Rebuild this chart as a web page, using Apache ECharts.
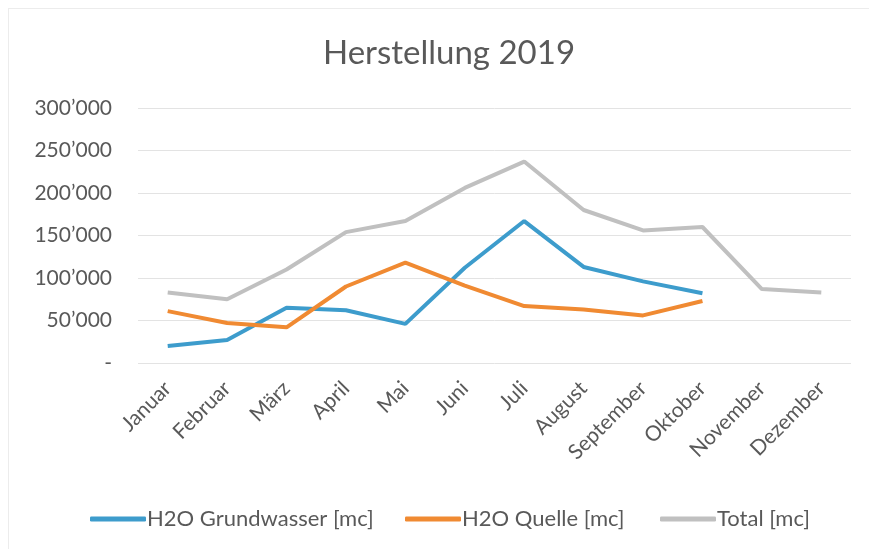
<!DOCTYPE html>
<html>
<head>
<meta charset="utf-8">
<script src="https://cdn.jsdelivr.net/npm/echarts@6/dist/echarts.min.js"></script>
<style>
html,body{margin:0;padding:0;background:#fff;}
#frame{position:absolute;left:8px;top:8px;width:900px;height:600px;border-left:1px solid #ececec;border-top:1px solid #ececec;}
#chart{position:absolute;left:0;top:0;width:869px;height:549px;}
</style>
</head>
<body>
<div id="frame"></div>
<div id="chart"></div>
<script>
const titleText = 'Herstellung 2019';
const months = ['Januar','Februar','März','April','Mai','Juni','Juli','August','September','Oktober','November','Dezember'];
const grundwasser = [20000, 27000, 65000, 62000, 46000, 112000, 167000, 113000, 96000, 82000, null, null];
const quelle = [61000, 47000, 42000, 90000, 118000, 91000, 67000, 63000, 56000, 73000, null, null];
const total = [83000, 75000, 110000, 154000, 167000, 206000, 237000, 180000, 156000, 160000, 87000, 83000];
const seriesNames = ['H2O Grundwasser [mc]', 'H2O Quelle [mc]', 'Total [mc]'];
const colors = ['#3d9ccc', '#f08a32', '#c0c0c0'];
const legendLefts = [85, 400, 655];

const FONT = 'Lato, "Open Sans", sans-serif';
const chart = echarts.init(document.getElementById('chart'), null, {renderer:'canvas'});
function fmt(v){
  if (v === 0) return '-';
  return String(v).replace(/\B(?=(\d{3})+(?!\d))/g, '\u2019');
}
const legends = seriesNames.map((n, i) => ({
  top: 503, left: legendLefts[i], itemWidth: 56, itemHeight: 5, icon: 'roundRect',
  textStyle: {fontFamily: FONT, fontSize: 22, color: '#595959', padding: [0,0,0,-4]},
  data: [n]
}));
chart.setOption({
  animation:false,
  title:{text:titleText,left:318,top:32,textStyle:{fontFamily:FONT,fontSize:33,fontWeight:'normal',color:'#595959'}},
  color:colors,
  grid:{left:138,right:18,top:108,bottom:186},
  legend:legends,
  xAxis:{type:'category',data:months,boundaryGap:true,
    axisLine:{show:false},axisTick:{show:false},
    axisLabel:{rotate:45,fontFamily:FONT,fontSize:21,color:'#595959',margin:22,interval:0}},
  yAxis:{type:'value',min:0,max:300000,interval:50000,
    axisLine:{show:false},axisTick:{show:false},
    splitLine:{lineStyle:{color:'#e3e3e3',width:1}},
    axisLabel:{formatter:fmt,fontFamily:FONT,fontSize:21,color:'#595959',margin:26}},
  series:[
    {name:seriesNames[0],type:'line',data:grundwasser,symbol:'none',lineStyle:{width:4,color:colors[0]},itemStyle:{color:colors[0]}},
    {name:seriesNames[1],type:'line',data:quelle,symbol:'none',lineStyle:{width:4,color:colors[1]},itemStyle:{color:colors[1]}},
    {name:seriesNames[2],type:'line',data:total,symbol:'none',lineStyle:{width:4,color:colors[2]},itemStyle:{color:colors[2]}}
  ]
});
</script>
</body>
</html>
